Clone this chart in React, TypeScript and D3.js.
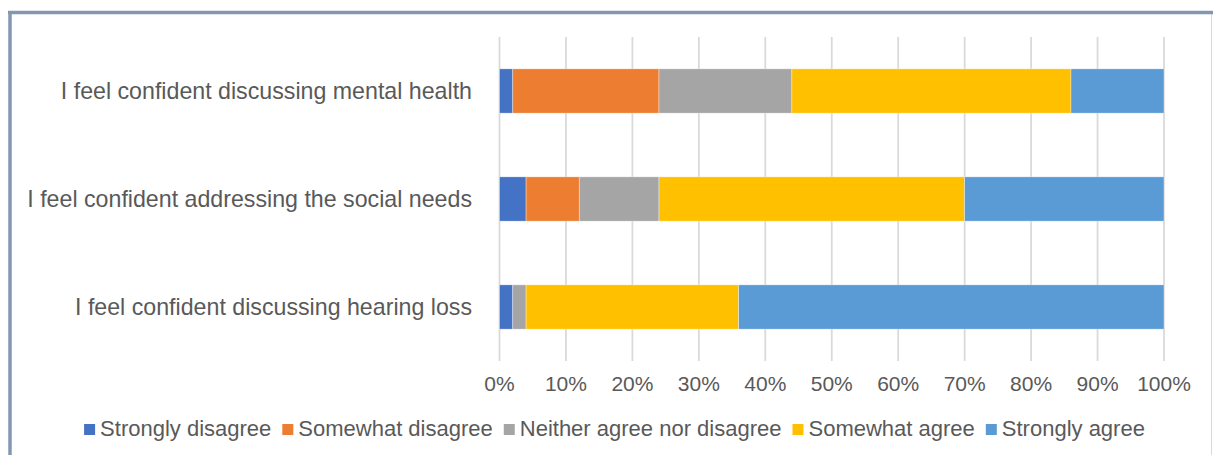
import React, { useEffect, useRef } from "react";
import * as d3 from "d3";

const categories = [
  "I feel confident discussing mental health",
  "I feel confident addressing the social needs",
  "I feel confident discussing hearing loss",
];
const seriesNames = [
  "Strongly disagree",
  "Somewhat disagree",
  "Neither agree nor disagree",
  "Somewhat agree",
  "Strongly agree",
];
const seriesColors = ["#4472C4", "#ED7D31", "#A5A5A5", "#FFC000", "#5B9BD5"];
// shares per category, in order of seriesNames
const stronglyDisagree = [0.02, 0.04, 0.02];
const somewhatDisagree = [0.22, 0.08, 0.0];
const neither = [0.2, 0.12, 0.02];
const somewhatAgree = [0.42, 0.46, 0.32];
const stronglyAgree = [0.14, 0.3, 0.64];
const xTicks = [0, 0.1, 0.2, 0.3, 0.4, 0.5, 0.6, 0.7, 0.8, 0.9, 1.0];

const FONT = "'Liberation Sans', Arial, sans-serif";
const TEXT = "#595959";

export default function App() {
  const ref = useRef<SVGSVGElement | null>(null);

  useEffect(() => {
    const svg = d3.select(ref.current);
    svg.selectAll("*").remove();
    const W = 1214, H = 455;

    const values = [stronglyDisagree, somewhatDisagree, neither, somewhatAgree, stronglyAgree];
    const rows = categories.map((c, i) => {
      const r: any = { cat: c };
      seriesNames.forEach((s, j) => (r[s] = values[j][i]));
      return r;
    });
    const stacked = d3.stack().keys(seriesNames)(rows);

    const x = d3.scaleLinear().domain([0, 1]).range([499.5, 1164]);
    const y = d3.scaleBand().domain(categories).range([37, 361]).paddingInner(0.59).paddingOuter(0.295);

    svg.append("rect").attr("width", W).attr("height", H).attr("fill", "#fff");

    // frame
    svg.append("line").attr("x1", 1211.5).attr("x2", 1211.5).attr("y1", 12).attr("y2", H)
      .attr("stroke", "#D9D9D9").attr("stroke-width", 1);
    svg.append("line").attr("x1", 8).attr("x2", 1213).attr("y1", 12.5).attr("y2", 12.5)
      .attr("stroke", "#8497B0").attr("stroke-width", 3.5);
    svg.append("line").attr("x1", 10).attr("x2", 10).attr("y1", 11).attr("y2", H)
      .attr("stroke", "#8497B0").attr("stroke-width", 3.5);

    // gridlines
    svg.append("g").selectAll("line").data(xTicks).join("line")
      .attr("x1", (d) => x(d)).attr("x2", (d) => x(d))
      .attr("y1", 37).attr("y2", 361)
      .attr("stroke", "#D9D9D9").attr("stroke-width", 1.75);

    // bars
    svg.append("g").selectAll("g").data(stacked).join("g")
      .attr("fill", (_d, i) => seriesColors[i])
      .selectAll("rect").data((d) => d).join("rect")
      .attr("x", (d) => x(d[0]))
      .attr("width", (d) => Math.max(0, x(d[1]) - x(d[0])))
      .attr("y", (d: any) => y(d.data.cat)!)
      .attr("height", y.bandwidth())
      .attr("stroke", "#ffffff").attr("stroke-width", 0.6).attr("stroke-opacity", 0.6);

    // category labels
    svg.append("g").selectAll("text").data(categories).join("text")
      .attr("x", 472).attr("y", (d) => y(d)! + y.bandwidth() / 2)
      .attr("dy", "0.35em").attr("text-anchor", "end")
      .attr("font-family", FONT).attr("font-size", 23.2).attr("fill", TEXT)
      .text((d) => d);

    // tick labels
    svg.append("g").selectAll("text").data(xTicks).join("text")
      .attr("x", (d) => x(d)).attr("y", 391)
      .attr("text-anchor", "middle")
      .attr("font-family", FONT).attr("font-size", 21).attr("fill", TEXT)
      .text((d) => d3.format(".0%")(d));

    // legend
    const lg = svg.append("g");
    const items = lg.selectAll("g").data(seriesNames).join("g");
    items.append("rect").attr("width", 11).attr("height", 11).attr("y", -11.5)
      .attr("fill", (_d, i) => seriesColors[i]);
    const texts = items.append("text").attr("x", 16).attr("y", 0)
      .attr("font-family", FONT).attr("font-size", 22).attr("fill", TEXT)
      .text((d) => d);
    const widths: number[] = [];
    texts.each(function () { widths.push((this as SVGTextElement).getComputedTextLength()); });
    const gap = 11;
    const total = widths.reduce((a, w) => a + 16 + w, 0) + gap * (widths.length - 1);
    let cx = 614.5 - total / 2;
    const offs: number[] = [];
    widths.forEach((w) => { offs.push(cx); cx += 16 + w + gap; });
    items.attr("transform", (_d, i) => `translate(${offs[i]},435.5)`);
  }, []);

  return (
    <div style={{ position: "absolute", left: 0, top: 0 }}>
      <svg ref={ref} width={1214} height={455} style={{ display: "block" }} />
    </div>
  );
}
